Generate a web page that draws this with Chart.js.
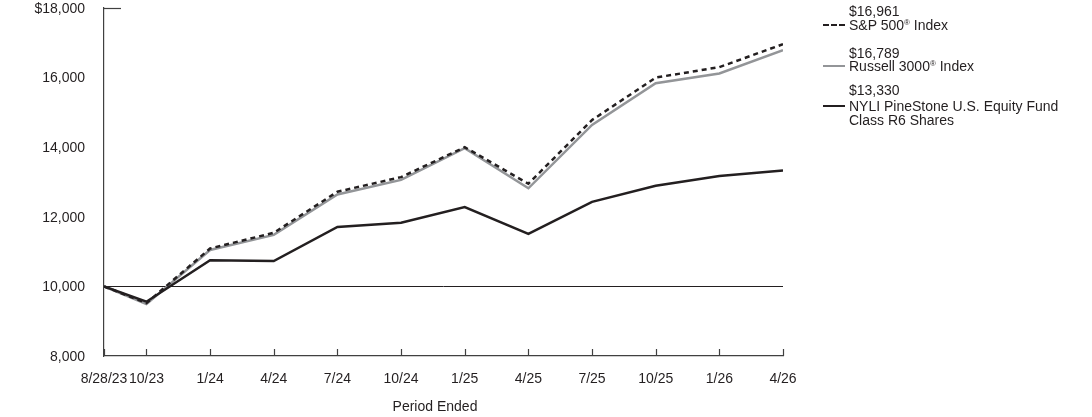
<!DOCTYPE html>
<html lang="en">
<head>
<meta charset="UTF-8">
<title>Growth of $10,000</title>
<script src="https://cdn.jsdelivr.net/npm/chart.js"></script>
<style>
  html, body { margin: 0; padding: 0; background: #fff; }
  .wrap { position: relative; width: 1092px; height: 417px; }
  canvas { position: absolute; left: 0; top: 0; }
  .lg { position: absolute; font-family: "Liberation Sans", Arial, sans-serif; font-size: 14px; color: #231f20; line-height: 14px; white-space: nowrap; }
  .lg sup { font-size: 8px; vertical-align: 5px; line-height: 0; }
  .sw { position: absolute; width: 22px; height: 0; }
</style>
</head>
<body>
<div class="wrap">
  <canvas id="chart" width="1092" height="417"></canvas>
  <div class="lg" style="left:849px; top:4px;">$16,961</div>
  <div class="sw" style="left:823px; top:24px; border-top:2.5px dashed #231f20;"></div>
  <div class="lg" style="left:849px; top:18px;">S&amp;P 500<sup>®</sup> Index</div>
  <div class="lg" style="left:849px; top:46px;">$16,789</div>
  <div class="sw" style="left:823px; top:65px; border-top:2.5px solid #939598;"></div>
  <div class="lg" style="left:849px; top:59px;">Russell 3000<sup>®</sup> Index</div>
  <div class="lg" style="left:849px; top:83px;">$13,330</div>
  <div class="sw" style="left:823px; top:105px; border-top:2.5px solid #231f20;"></div>
  <div class="lg" style="left:849px; top:99px;">NYLI PineStone U.S. Equity Fund</div>
  <div class="lg" style="left:849px; top:113px;">Class R6 Shares</div>
</div>
<script>
// months since the start date, one per period end
const months = [0, 2, 5, 8, 11, 14, 17, 20, 23, 26, 29, 32];
const tickLabels = ['8/28/23', '10/23', '1/24', '4/24', '7/24', '10/24', '1/25', '4/25', '7/25', '10/25', '1/26', '4/26'];

const fund    = [10000, 9560, 10750, 10730, 11710, 11830, 12280, 11510, 12430, 12890, 13170, 13330];
const russell = [10000, 9490, 11046, 11480, 12640, 13060, 13970, 12820, 14640, 15840, 16120, 16789];
const sp500   = [10000, 9520, 11090, 11540, 12720, 13140, 14000, 12950, 14780, 16000, 16300, 16961];

const yTicks = [8000, 10000, 12000, 14000, 16000, 18000];

const ink = '#231f20';
const font = { family: '"Liberation Sans", Arial, sans-serif', size: 14 };

function pts(arr) {
  return arr.map((v, i) => ({ x: months[i], y: v }));
}

const extras = {
  id: 'extras',
  beforeDatasetsDraw(chart) {
    const { ctx, chartArea, scales } = chart;
    const y0 = scales.y.getPixelForValue(10000);
    ctx.save();
    ctx.strokeStyle = ink;
    ctx.lineWidth = 1;
    ctx.beginPath();
    ctx.moveTo(chartArea.left, Math.round(y0) + 0.5);
    ctx.lineTo(chartArea.right, Math.round(y0) + 0.5);
    ctx.stroke();
    ctx.restore();
  },
  afterDraw(chart) {
    const { ctx, chartArea, scales } = chart;
    ctx.save();
    ctx.strokeStyle = '#404040';
    ctx.lineWidth = 1.2;
    // inward tick marks on the x axis
    months.forEach(m => {
      const x = Math.round(scales.x.getPixelForValue(m)) + 0.5;
      ctx.beginPath();
      ctx.moveTo(x, chartArea.bottom);
      ctx.lineTo(x, chartArea.bottom - 7);
      ctx.stroke();
    });
    // short marker at the top of the value axis
    const yt = Math.round(scales.y.getPixelForValue(18000)) + 0.5;
    ctx.beginPath();
    ctx.moveTo(chartArea.left, yt);
    ctx.lineTo(chartArea.left + 17, yt);
    ctx.stroke();
    // axis title, sits a little left of centre
    ctx.fillStyle = ink;
    ctx.font = '14px "Liberation Sans", Arial, sans-serif';
    ctx.textAlign = 'center';
    ctx.textBaseline = 'middle';
    ctx.fillText('Period Ended', 435, 407);
    ctx.restore();
  }
};

new Chart(document.getElementById('chart'), {
  type: 'line',
  data: {
    datasets: [
      { label: 'NYLI PineStone U.S. Equity Fund Class R6 Shares', data: pts(fund),
        borderColor: ink, borderWidth: 2.5, pointRadius: 0, order: 1 },
      { label: 'S&P 500® Index', data: pts(sp500),
        borderColor: ink, borderWidth: 2.5, borderDash: [5, 4], pointRadius: 0, order: 2 },
      { label: 'Russell 3000® Index', data: pts(russell),
        borderColor: '#939598', borderWidth: 2.5, pointRadius: 0, order: 3 }
    ]
  },
  options: {
    responsive: false,
    animation: false,
    layout: { padding: { top: 8, right: 309, left: 0, bottom: 0 } },
    plugins: { legend: { display: false }, tooltip: { enabled: false } },
    scales: {
      x: {
        type: 'linear',
        min: 0,
        max: 32,
        grid: { display: false },
        border: { display: true, color: '#404040', width: 1.2 },
        afterBuildTicks: axis => { axis.ticks = months.map(v => ({ value: v })); },
        afterFit: axis => { axis.height = 61; axis.paddingLeft = 0; axis.paddingRight = 0; },
        ticks: {
          color: ink, font, padding: 7, maxRotation: 0, autoSkip: false,
          callback: v => tickLabels[months.indexOf(v)]
        }
      },
      y: {
        min: 8000,
        max: 18000,
        grid: { display: false },
        border: { display: true, color: '#404040', width: 1.2 },
        afterBuildTicks: axis => { axis.ticks = yTicks.map(v => ({ value: v })); },
        afterFit: axis => { axis.width = 104; axis.paddingTop = 0; axis.paddingBottom = 0; },
        ticks: {
          color: ink, font, padding: 11, labelOffset: 1,
          callback: v => (v === 18000 ? '$' : '') + v.toLocaleString('en-US')
        }
      }
    }
  },
  plugins: [extras]
});
</script>
</body>
</html>
